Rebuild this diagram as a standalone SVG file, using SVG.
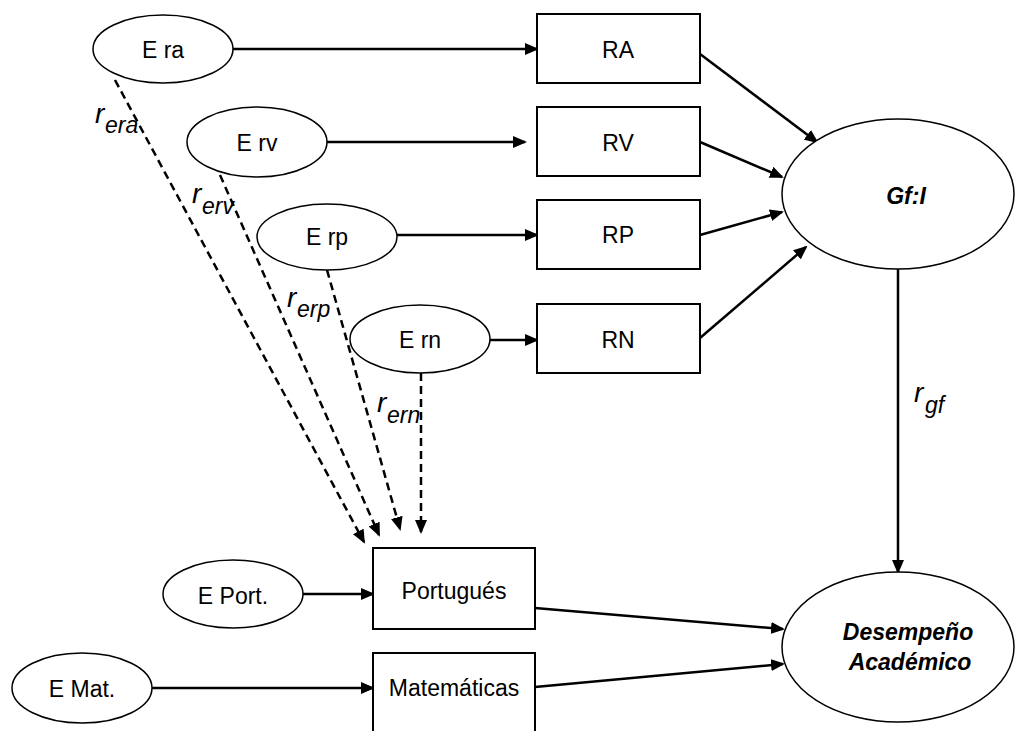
<svg xmlns="http://www.w3.org/2000/svg" width="1020" height="731" viewBox="0 0 1020 731">
<style>
text{font-family:"Liberation Sans",Arial,sans-serif;font-size:23px;fill:#000}
.c{text-anchor:middle}
.bi{font-weight:bold;font-style:italic}
.r{font-style:italic}
.big{font-size:28px}
ellipse{fill:#fff;stroke:#000;stroke-width:1.5}
rect{fill:#fff;stroke:#000;stroke-width:2}
.a{fill:none;stroke:#000;stroke-width:2.5;marker-end:url(#ah)}
.d{fill:none;stroke:#000;stroke-width:2.5;stroke-dasharray:8 5;marker-end:url(#ah)}
</style>
<defs>
<marker id="ah" markerUnits="userSpaceOnUse" markerWidth="14" markerHeight="12" refX="12" refY="6" orient="auto" viewBox="0 0 14 12">
<path d="M0,0 L14,6 L0,12 z" fill="#000"/>
</marker>
</defs>
<g id="connectors">
<path class="a" d="M233,49 L537,49"/>
<path class="a" d="M327,142 L525,142"/>
<path class="a" d="M397,235 L537,235"/>
<path class="a" d="M490,340 L537,340"/>
<path class="a" d="M700,54 L817,142"/>
<path class="a" d="M700,142 L782,177"/>
<path class="a" d="M700,235 L782,212"/>
<path class="a" d="M700,338 L806,247"/>
<path class="a" d="M898,269 L898,572"/>
<path class="a" d="M303,594 L373,594"/>
<path class="a" d="M152,688 L373,688"/>
<path class="a" d="M535,608 L783,629"/>
<path class="a" d="M535,687 L783,664"/>
<path class="d" d="M115,80 L364,542"/>
<path class="d" d="M220,175 L379,535"/>
<path class="d" d="M327,270 L400,529"/>
<path class="d" d="M421,373 L421,532"/>
</g>
<g id="labels">
<text class="r"><tspan class="big" x="95" y="123">r</tspan><tspan x="105" y="133">era</tspan></text>
<text class="r"><tspan class="big" x="192" y="203">r</tspan><tspan x="202" y="214">erv</tspan></text>
<text class="r"><tspan class="big" x="287" y="307">r</tspan><tspan x="297" y="317">erp</tspan></text>
<text class="r"><tspan class="big" x="377" y="412">r</tspan><tspan x="387" y="423">ern</tspan></text>
<text class="r"><tspan class="big" x="914" y="402">r</tspan><tspan x="925" y="413">gf</tspan></text>
</g>
<g id="n-era"><ellipse cx="163" cy="49" rx="70" ry="34"/><text class="c" x="163" y="58">E ra</text></g>
<g id="n-erv"><ellipse cx="257" cy="142" rx="70" ry="35"/><text class="c" x="257" y="151">E rv</text></g>
<g id="n-erp"><ellipse cx="327" cy="237" rx="70" ry="33"/><text class="c" x="327" y="245">E rp</text></g>
<g id="n-ern"><ellipse cx="420" cy="339" rx="70" ry="34"/><text class="c" x="420" y="348">E rn</text></g>
<g id="n-ra"><rect x="537" y="14" width="163" height="69"/><text class="c" x="618" y="58">RA</text></g>
<g id="n-rv"><rect x="537" y="107" width="163" height="69"/><text class="c" x="618" y="151">RV</text></g>
<g id="n-rp"><rect x="537" y="200" width="163" height="69"/><text class="c" x="618" y="243">RP</text></g>
<g id="n-rn"><rect x="537" y="304" width="163" height="69"/><text class="c" x="618" y="348">RN</text></g>
<g id="n-gfi"><ellipse cx="898" cy="194" rx="116" ry="75"/><text class="c bi" x="906" y="204">Gf:I</text></g>
<g id="n-port"><rect x="373" y="548" width="162" height="81"/><text class="c" x="454" y="599">Portugués</text></g>
<g id="n-mat"><rect x="373" y="653" width="162" height="90"/><text class="c" x="454" y="696">Matemáticas</text></g>
<g id="n-eport"><ellipse cx="233" cy="594" rx="70" ry="34"/><text class="c" x="233" y="604">E Port.</text></g>
<g id="n-emat"><ellipse cx="82" cy="688" rx="70" ry="35"/><text class="c" x="82" y="697">E Mat.</text></g>
<g id="n-desemp"><ellipse cx="898" cy="647" rx="116" ry="75"/><text class="c bi" x="908" y="640">Desempeño</text><text class="c bi" x="910" y="670">Académico</text></g>
</svg>
